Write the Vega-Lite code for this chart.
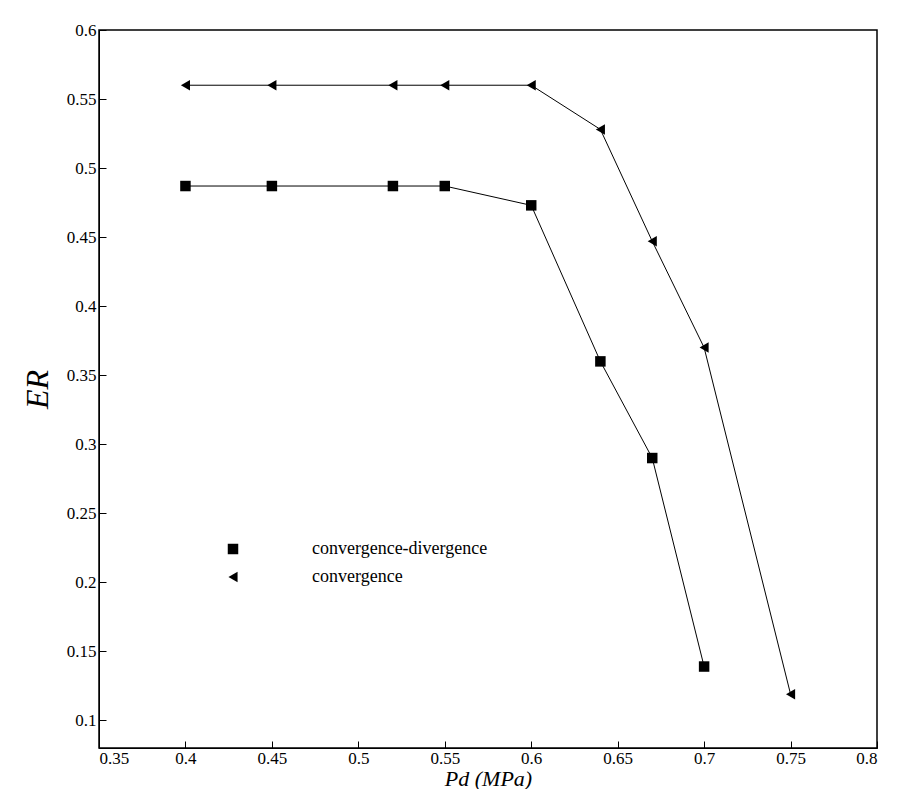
{
  "$schema": "https://vega.github.io/schema/vega-lite/v6.json",
  "width": 778,
  "height": 718,
  "autosize": "none",
  "padding": {"left": 99, "top": 30, "right": 20, "bottom": 41},
  "background": "white",
  "config": {
    "font": "Liberation Serif",
    "view": {"stroke": "black", "strokeWidth": 1.5},
    "axis": {"grid": false, "domainColor": "black", "tickColor": "black", "labelColor": "black", "labelFontSize": 17, "labelFont": "Times New Roman, Liberation Serif, serif", "tickSize": -7, "labelPadding": 10, "titleColor": "black", "titleFont": "Times New Roman, Liberation Serif, serif", "format": "~g"},
    "legend": {"labelFont": "Times New Roman, Liberation Serif, serif"}
  },
  "data": {
    "values": [
      {"Pd": 0.4, "ER": 0.487, "nozzle": "convergence-divergence"},
      {"Pd": 0.45, "ER": 0.487, "nozzle": "convergence-divergence"},
      {"Pd": 0.52, "ER": 0.487, "nozzle": "convergence-divergence"},
      {"Pd": 0.55, "ER": 0.487, "nozzle": "convergence-divergence"},
      {"Pd": 0.6, "ER": 0.473, "nozzle": "convergence-divergence"},
      {"Pd": 0.64, "ER": 0.36, "nozzle": "convergence-divergence"},
      {"Pd": 0.67, "ER": 0.29, "nozzle": "convergence-divergence"},
      {"Pd": 0.7, "ER": 0.139, "nozzle": "convergence-divergence"},
      {"Pd": 0.4, "ER": 0.56, "nozzle": "convergence"},
      {"Pd": 0.45, "ER": 0.56, "nozzle": "convergence"},
      {"Pd": 0.52, "ER": 0.56, "nozzle": "convergence"},
      {"Pd": 0.55, "ER": 0.56, "nozzle": "convergence"},
      {"Pd": 0.6, "ER": 0.56, "nozzle": "convergence"},
      {"Pd": 0.64, "ER": 0.528, "nozzle": "convergence"},
      {"Pd": 0.67, "ER": 0.447, "nozzle": "convergence"},
      {"Pd": 0.7, "ER": 0.37, "nozzle": "convergence"},
      {"Pd": 0.75, "ER": 0.119, "nozzle": "convergence"}
    ]
  },
  "encoding": {
    "x": {"field": "Pd", "type": "quantitative", "scale": {"domain": [0.35, 0.8], "nice": false}, "axis": {"values": [0.35,0.4,0.45,0.5,0.55,0.6,0.65,0.7,0.75,0.8], "labelPadding": 9, "title": "Pd (MPa)", "titleFontSize": 22, "titleFontStyle": "italic", "titleFontWeight": "normal", "titlePadding": 2}},
    "y": {"field": "ER", "type": "quantitative", "scale": {"domain": [0.08, 0.6], "nice": false, "zero": false}, "axis": {"values": [0.1,0.15,0.2,0.25,0.3,0.35,0.4,0.45,0.5,0.55,0.6], "title": "ER", "titleFontSize": 32, "titleFontStyle": "italic", "titleFontWeight": "normal", "titleAngle": -90, "titlePadding": 12}},
    "detail": {"field": "nozzle"}
  },
  "layer": [
    {"mark": {"type": "line", "color": "black", "strokeWidth": 1}},
    {
      "mark": {"type": "point", "filled": true, "color": "black", "size": 110, "opacity": 1},
      "encoding": {
        "shape": {"field": "nozzle", "type": "nominal", "sort": ["convergence-divergence", "convergence"], "scale": {"domain": ["convergence-divergence", "convergence"], "range": ["square", "triangle-left"]},
          "legend": {"title": null, "orient": "none", "legendX": 125, "legendY": 510, "labelFontSize": 18, "labelColor": "black", "labelLimit": 400, "symbolFillColor": "black", "symbolStrokeColor": "black", "symbolSize": 110, "rowPadding": 10, "labelOffset": 70}}
      }
    }
  ]
}
